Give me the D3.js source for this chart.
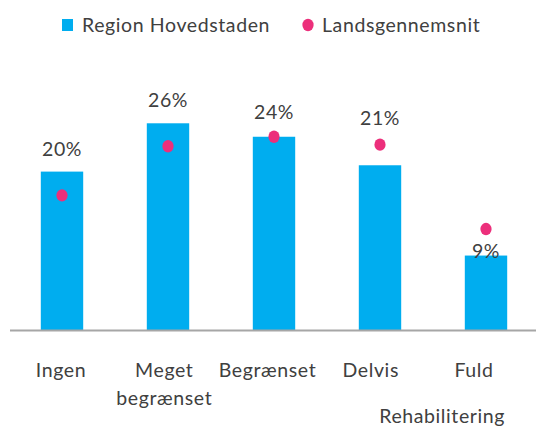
<!DOCTYPE html>
<html>
<head>
<meta charset="utf-8">
<script src="https://cdn.jsdelivr.net/npm/d3@7/dist/d3.min.js"></script>
<style>
  html, body { margin: 0; padding: 0; background: #ffffff; }
  svg { display: block; }
  text { font-family: Lato, "Open Sans", sans-serif; fill: #404040; letter-spacing: 0.6px; }
</style>
</head>
<body>
<svg id="chart" width="536" height="427"></svg>
<script>
// ---- data ----
const categories = ["Ingen", "Meget begrænset", "Begrænset", "Delvis", "Fuld"];
const regionValues = [20.0, 26.1, 24.4, 20.8, 9.4];        // Region Hovedstaden (%)
const nationalValues = [17.0, 23.2, 24.4, 23.4, 12.75];    // Landsgennemsnit (%)
const seriesNames = ["Region Hovedstaden", "Landsgennemsnit"];
const axisTitle = "Rehabilitering";

// ---- layout ----
const W = 536, H = 427;
const baseY = 330;
const barColor = "#00ADEF";
const dotColor = "#EC2F7B";
const fontSize = 19.5;

const svg = d3.select("#chart");

const x = d3.scaleBand().domain(categories).range([9, 539]).paddingInner(0.6).paddingOuter(0.3);
const xLabel = d3.scalePoint().domain(categories).range([61, 474]);
const y = d3.scaleLinear().domain([0, 30]).range([baseY, baseY - 30 * 7.92]);

// bars
svg.append("g").selectAll("rect").data(categories).join("rect")
  .attr("x", d => x(d))
  .attr("width", x.bandwidth())
  .attr("y", (d, i) => y(regionValues[i]))
  .attr("height", (d, i) => y(0) - y(regionValues[i]))
  .attr("fill", barColor);

// baseline axis
svg.append("line")
  .attr("x1", 10).attr("x2", W)
  .attr("y1", y(0) + 0.5).attr("y2", y(0) + 0.5)
  .attr("stroke", "#a6a6a6").attr("stroke-width", 2);

// national average dots
svg.append("g").selectAll("ellipse").data(categories).join("ellipse")
  .attr("cx", d => x(d) + x.bandwidth() / 2)
  .attr("cy", (d, i) => y(nationalValues[i]))
  .attr("rx", 5.6).attr("ry", 6.2)
  .attr("fill", dotColor);

// value labels (placed above the bar, or above the dot when the dot sits just over the bar)
function labelBaseline(i) {
  const barTop = y(regionValues[i]);
  const dotY = y(nationalValues[i]);
  if (regionValues[i] < 10) return barTop + 2;          // small bar: label sits at the bar top
  if (dotY < barTop - 8) return dotY - 20;              // dot clearly above bar
  if (dotY <= barTop + 2) return Math.min(barTop, dotY) - 18;
  return barTop - 16;
}
svg.append("g").selectAll("text").data(categories).join("text")
  .attr("x", d => x(d) + x.bandwidth() / 2)
  .attr("y", (d, i) => labelBaseline(i))
  .attr("text-anchor", "middle")
  .attr("font-size", fontSize)
  .text((d, i) => Math.round(regionValues[i]) + "%");

// category labels (wrapped on spaces)
const catG = svg.append("g");
categories.forEach(c => {
  const t = catG.append("text")
    .attr("x", xLabel(c))
    .attr("y", 377)
    .attr("text-anchor", "middle")
    .attr("font-size", fontSize);
  c.split(" ").forEach((w, j) => {
    t.append("tspan").attr("x", xLabel(c)).attr("dy", j === 0 ? 0 : 28).text(w);
  });
});

// axis title
svg.append("text")
  .attr("x", 505).attr("y", 423)
  .attr("text-anchor", "end")
  .attr("font-size", fontSize)
  .text(axisTitle);

// legend
const leg = svg.append("g");
leg.append("rect").attr("x", 62).attr("y", 19).attr("width", 11).attr("height", 12).attr("fill", barColor);
leg.append("text").attr("x", 82).attr("y", 32).attr("font-size", fontSize).text(seriesNames[0]);
leg.append("ellipse").attr("cx", 308).attr("cy", 25).attr("rx", 5.6).attr("ry", 6.2).attr("fill", dotColor);
leg.append("text").attr("x", 322).attr("y", 32).attr("font-size", fontSize).text(seriesNames[1]);
</script>
</body>
</html>
